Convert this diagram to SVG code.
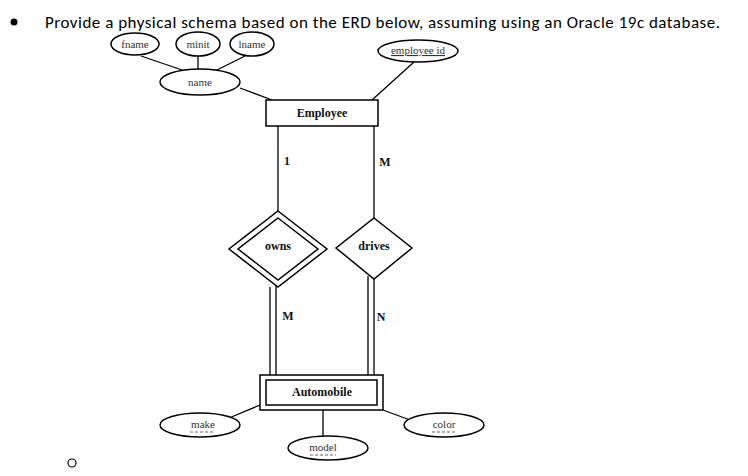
<svg xmlns="http://www.w3.org/2000/svg" width="748" height="476" viewBox="0 0 748 476">
<style>
.e{fill:#fff;stroke:#000;stroke-width:1.5}
.l{stroke:#000;stroke-width:1.3;fill:none}
.t{font-family:"Liberation Serif",serif;font-size:11px;fill:#333;text-anchor:middle}
.b{font-family:"Liberation Serif",serif;font-size:12px;font-weight:bold;fill:#111;text-anchor:middle}
.d{stroke:#666;stroke-width:1;stroke-dasharray:3,2}
</style>
<rect width="748" height="476" fill="#fff"/>
<circle cx="14" cy="22" r="3.5" fill="#000"/>
<text x="45" y="28" font-family="Carlito,'Liberation Sans',sans-serif" font-size="17" textLength="675" fill="#000">Provide a physical schema based on the ERD below, assuming using an Oracle 19c database.</text>
<circle cx="72" cy="463" r="4" fill="none" stroke="#000" stroke-width="1.2"/>
<g id="connectors">
<line class="l" x1="141" y1="56" x2="185" y2="71"/>
<line class="l" x1="198" y1="56" x2="198" y2="69"/>
<line class="l" x1="245" y1="56" x2="215" y2="71"/>
<line class="l" x1="240" y1="88" x2="272" y2="100"/>
<line class="l" x1="414" y1="62" x2="372" y2="100"/>
<line class="l" x1="278" y1="126" x2="278" y2="211"/>
<line class="l" x1="374" y1="126" x2="374" y2="218"/>
<line class="l" x1="270" y1="287" x2="270" y2="375"/>
<line class="l" x1="276" y1="283" x2="276" y2="375"/>
<line class="l" x1="368" y1="276" x2="368" y2="375"/>
<line class="l" x1="374" y1="279" x2="374" y2="375"/>
<line class="l" x1="229" y1="418" x2="260" y2="405"/>
<line class="l" x1="323" y1="410" x2="323" y2="436"/>
<line class="l" x1="383" y1="410" x2="410" y2="420"/>
<text class="b" x="287" y="165" font-size="10">1</text>
<text class="b" x="385" y="166" font-size="10">M</text>
<text class="b" x="288" y="320" font-size="10">M</text>
<text class="b" x="381" y="321" font-size="10">N</text>
</g>
<g id="fname"><ellipse class="e" cx="135" cy="44" rx="24" ry="11"/><text class="t" x="135" y="48">fname</text></g>
<g id="minit"><ellipse class="e" cx="198" cy="44" rx="22" ry="12"/><text class="t" x="198" y="48">minit</text></g>
<g id="lname"><ellipse class="e" cx="252" cy="44" rx="22" ry="12"/><text class="t" x="252" y="48">lname</text></g>
<g id="employeeid"><ellipse class="e" cx="418" cy="51" rx="40" ry="11"/><text class="t" x="418" y="54" text-decoration="underline">employee id</text></g>
<g id="name"><ellipse class="e" cx="200" cy="82" rx="40" ry="13"/><text class="t" x="200" y="86">name</text></g>
<g id="employee"><rect class="e" x="266" y="100" width="112" height="26"/><text class="b" x="322" y="117">Employee</text></g>
<g id="owns"><polygon class="e" points="278,211 327,249 278,287 229,249"/><polygon class="e" points="278,218 318,249 278,280 238,249"/><text class="b" x="278" y="250" font-size="10">owns</text></g>
<g id="drives"><polygon class="e" points="374,218 412,248 374,279 336,248"/><text class="b" x="374" y="250" font-size="10">drives</text></g>
<g id="automobile"><rect class="e" x="260" y="375" width="123" height="35"/><rect class="e" x="266" y="380" width="111" height="25"/><text class="b" x="322" y="396">Automobile</text></g>
<g id="make"><ellipse class="e" cx="200" cy="425" rx="40" ry="12"/><text class="t" x="203" y="428">make</text><line class="d" x1="190" y1="432" x2="215" y2="432"/></g>
<g id="model"><ellipse class="e" cx="328" cy="448" rx="40" ry="12"/><text class="t" x="323" y="451">model</text><line class="d" x1="310" y1="455" x2="336" y2="455"/></g>
<g id="color"><ellipse class="e" cx="444" cy="425" rx="40" ry="12"/><text class="t" x="444" y="428">color</text><line class="d" x1="432" y1="432" x2="456" y2="432"/></g>
</svg>
